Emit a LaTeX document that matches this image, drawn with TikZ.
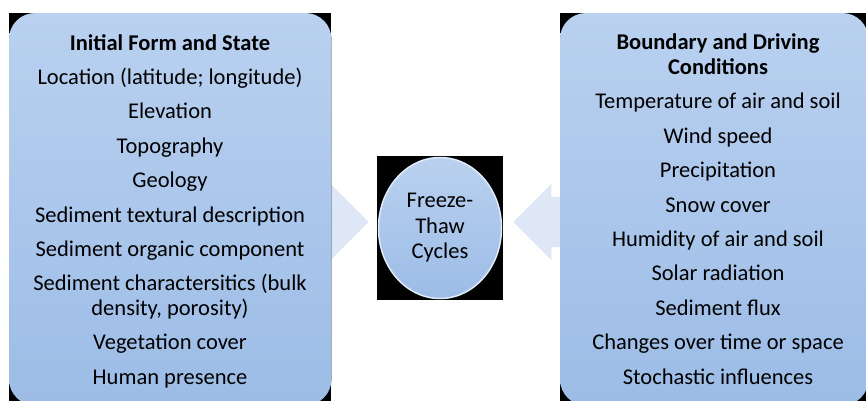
\documentclass[tikz,border=0pt]{standalone}
\usepackage{fontspec}
\setmainfont{Carlito}
\usetikzlibrary{shapes.arrows,shapes.geometric}
\definecolor{boxtop}{HTML}{BAD1F0}
\definecolor{boxbot}{HTML}{9CBCE6}
\definecolor{arrowblue}{HTML}{DDE7F5}
\begin{document}
\begin{tikzpicture}[x=1pt,y=-1pt,
    backing/.style={fill=black, inner sep=0pt, anchor=north west},
    panel/.style={rounded corners=26pt, top color=boxtop, bottom color=boxbot},
    listtext/.style={align=center, font=\fontsize{22.5}{24.5}\selectfont, inner sep=0pt, anchor=north},
    flowarrow/.style={single arrow, fill=arrowblue, draw=none, inner xsep=0pt, inner ysep=25pt,
        single arrow head extend=13pt, minimum height=60pt, anchor=tip}]
    \useasboundingbox (0,0) rectangle (866,400);
    \clip (0,0) rectangle (866,400);
    % pale arrows behind the panels
    \node [flowarrow] (toright) at (369,222) {};
    \node [flowarrow, shape border rotate=180] (toleft) at (513,222) {};
    % left panel
    \node [backing, minimum width=322pt, minimum height=392pt] (initbg) at (9,13) {};
    \fill [panel] (initbg.north west) rectangle (initbg.south east);
    \node [listtext] (init) at (170,34) {\textbf{Initial Form and State}\\[9.9pt]
        Location (latitude; longitude)\\[9.9pt]
        Elevation\\[9.9pt]
        Topography\\[9.9pt]
        Geology\\[9.9pt]
        Sediment textural description\\[9.9pt]
        Sediment organic component\\[9.9pt]
        Sediment charactersitics (bulk\\
        density, porosity)\\[9.9pt]
        Vegetation cover\\[9.9pt]
        Human presence};
    % right panel
    \node [backing, minimum width=308pt, minimum height=392pt] (bndbg) at (560,13) {};
    \fill [panel] (bndbg.north west) rectangle (bndbg.south east);
    \node [listtext] (bnd) at (718,34) {\textbf{Boundary and Driving}\\
        \textbf{Conditions}\\[9.9pt]
        Temperature of air and soil\\[9.9pt]
        Wind speed\\[9.9pt]
        Precipitation\\[9.9pt]
        Snow cover\\[9.9pt]
        Humidity of air and soil\\[9.9pt]
        Solar radiation\\[9.9pt]
        Sediment flux\\[9.9pt]
        Changes over time or space\\[9.9pt]
        Stochastic influences};
    % centre
    \node [fill=black, minimum width=126pt, minimum height=144pt, inner sep=0pt] (ftbg) at (440,228) {};
    \node [ellipse, top color=boxtop, bottom color=boxbot, draw=white!55!boxtop, line width=1.5pt,
        minimum width=123pt, minimum height=141pt, inner sep=0pt, align=center,
        font=\fontsize{22.5}{25.5}\selectfont] (ftc) at (ftbg.center) {Freeze-\\Thaw\\Cycles};
\end{tikzpicture}
\end{document}
